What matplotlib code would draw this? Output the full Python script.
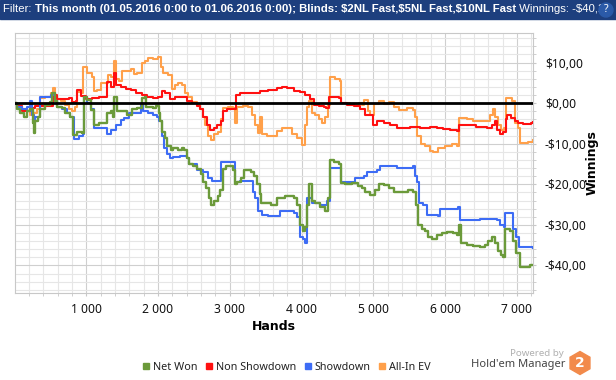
import matplotlib
matplotlib.use("Agg")
import matplotlib.pyplot as plt
from matplotlib.lines import Line2D
from matplotlib.patches import Rectangle, RegularPolygon, Circle
from matplotlib.ticker import MultipleLocator, FuncFormatter

plt.rcParams['font.family'] = ['Noto Sans', 'DejaVu Sans']

# Data (hands, winnings in $)
net_won_hands = [0, 37, 84, 130, 177, 223, 256, 270, 293, 330, 363, 432, 502, 525, 563, 595, 665, 711, 781, 814, 874, 944, 972, 1014, 1060, 1107, 1176, 1260, 1283, 1339, 1372, 1390, 1432, 1502, 1572, 1641, 1711, 1772,
                 1812, 1836, 1930, 1977, 2009, 2033, 2061, 2094, 2127, 2174, 2211, 2281, 2328, 2361, 2399, 2436, 2492, 2549, 2596, 2633, 2671, 2704, 2736, 2774, 2830, 2868, 2900, 2952, 3008, 3046, 3069, 3102, 3149, 3196, 3252, 3299, 3337, 3384, 3421, 3440, 3501, 3571,
                 3657, 3773, 3889, 3935, 3972, 4014, 4051, 4074, 4107, 4144, 4190, 4260, 4329, 4362, 4390, 4445, 4515, 4548, 4608, 4701, 4780, 4840, 4886, 4956, 5025, 5072, 5142, 5211, 5281, 5374,
                 5485, 5555, 5592, 5624, 5671, 5717, 5763, 5810, 5879, 5949, 6019, 6111, 6167, 6195, 6227, 6297, 6390, 6483, 6552, 6599, 6645, 6692, 6738, 6784, 6807, 6831, 6900, 6947, 6993, 7039, 7109, 7179, 7225]
net_won = [0, -1.5, -2.5, -3.3, -2.0, -1.5, -5.0, -7.4, -4.5, -3.3, -1.5, -0.4, 0.4, 2.5, 0.5, -1.0, -1.2, -2.5, -3.3, -7.8, -7.0, -7.4, 1.6, 0.8, -1.6, -5.3, -4.9, -5.0, -2.5, -2.0, -3.3, 1.6, -2.0, -2.0, -3.0, -1.5, -1.2, 1.3,
           1.5, -1.0, -1.2, -0.8, -2.5, -4.5, -7.0, -8.5, -10.5, -11.5, -11.0, -11.5, -11.0, -11.5, -13.5, -15.0, -15.5, -16.2, -17.5, -19.5, -21.0, -23.5, -25.0, -24.0, -23.0, -21.5, -16.2, -15.5, -15.5, -16.5, -20.0, -19.5, -18.5, -16.5, -16.5, -17.0, -18.0, -20.0, -22.5, -24.7, -24.7, -25.0,
           -23.5, -23.0, -23.5, -25.0, -30.0, -31.5, -30.5, -25.0, -20.0, -24.0, -24.5, -25.5, -26.7, -23.5, -14.0, -14.5, -15.0, -19.8, -20.0, -19.8, -20.5, -21.0, -22.0, -22.6, -21.5, -20.0, -20.2, -21.0, -22.0, -22.0,
           -21.5, -22.0, -25.0, -30.0, -31.0, -31.5, -33.0, -33.5, -32.5, -32.0, -31.8, -32.0, -32.6, -30.0, -34.5, -35.0, -35.3, -35.5, -35.0, -34.0, -33.0, -34.5, -36.5, -37.5, -38.0, -31.0, -31.5, -34.0, -37.0, -40.5, -40.5, -40.0, -39.8]

non_showdown_hands = [0, 37, 107, 177, 223, 293, 386, 502, 535, 595, 688, 758, 805, 851, 874, 921, 990, 1083, 1176, 1246, 1293, 1339, 1386, 1418, 1479, 1548, 1618, 1688, 1781,
                      1842, 1935, 2005, 2051, 2097, 2167, 2237, 2329, 2399, 2469, 2538, 2585, 2631, 2677, 2724, 2780, 2826, 2872, 2900, 2956, 3049, 3086, 3141, 3234, 3327, 3420, 3536,
                      3657, 3726, 3796, 3889, 3981, 4051, 4121, 4167, 4237, 4306, 4343, 4376, 4469, 4515, 4548, 4631, 4724, 4817, 4886, 4956, 4993, 5049, 5142, 5234, 5327,
                      5508, 5647, 5787, 5879, 5972, 6065, 6158, 6195, 6297, 6436, 6576, 6645, 6692, 6724, 6761, 6807, 6845, 6863, 6923, 6970, 7016, 7086, 7155, 7202, 7225]
non_showdown = [0, -0.8, -2.0, -2.0, -1.2, -0.8, -0.7, -0.6, 2.0, 1.0, 1.0, 1.2, 0.4, 0.6, 3.3, 1.8, 1.0, 1.2, 1.5, 1.5, 5.3, 4.0, 7.4, 4.5, 4.0, 3.5, 3.2, 2.5, 2.0,
                1.5, 1.3, 1.5, 3.0, 2.5, 1.0, 1.5, 1.5, 0.6, 0.0, -0.8, -1.5, -3.5, -5.5, -6.6, -6.0, -5.5, -4.5, -2.0, -1.5, -1.5, 2.0, 2.5, 2.5, 2.5, 3.0, 3.3,
                3.7, 4.0, 3.7, 3.0, 2.7, 2.0, 1.0, -0.5, -0.8, -1.0, -1.2, 1.6, 1.6, 1.2, 0.0, -0.5, -0.8, -1.5, -3.0, -3.0, -5.5, -4.5, -5.0, -5.5, -6.0,
                -5.8, -6.0, -5.8, -6.2, -6.3, -6.5, -6.8, -5.5, -5.5, -5.8, -6.0, -5.5, -4.5, -6.5, -7.5, -7.0, -4.0, -3.0, -3.7, -4.5, -5.0, -5.2, -5.2, -4.8, -4.6]

showdown_hands = [0, 37, 107, 177, 214, 246, 270, 293, 363, 432, 516, 563, 595, 665, 735, 781, 828, 897, 953, 972, 1014, 1060, 1107, 1176, 1293, 1339, 1409, 1479, 1525, 1595, 1688, 1758,
                  1796, 1865, 1935, 1981, 2019, 2051, 2084, 2121, 2167, 2213, 2306, 2399, 2436, 2492, 2538, 2631, 2701, 2747, 2854, 2872, 3002, 3058, 3077, 3141, 3281, 3318, 3350, 3397, 3443, 3536,
                  3703, 3889, 3935, 3972, 4014, 4042, 4074, 4144, 4260, 4353, 4390, 4538, 4552, 4724, 4747, 4863, 4909, 5049, 5095, 5281, 5327,
                  5555, 5578, 5610, 5638, 5694, 5740, 5903, 5926, 6181, 6204, 6483, 6715, 6761, 6817, 6835, 6923, 6947, 6993, 7030, 7225]
showdown = [0, -1.0, -1.5, -1.0, 0.5, -3.0, -5.0, -3.5, 1.6, 1.6, 2.0, 0.5, -1.0, -1.5, -2.5, -3.3, -8.9, -8.0, -7.7, 1.6, 0.0, -1.5, -6.2, -6.2, -7.6, -6.6, -5.3, -4.1, -3.7, -2.5, -2.5, -0.4,
            -2.0, -2.5, -3.0, -3.5, -4.5, -8.0, -11.0, -12.5, -13.5, -13.2, -13.0, -13.5, -15.0, -15.0, -16.5, -17.0, -18.5, -19.3, -19.3, -14.4, -14.4, -14.4, -19.5, -19.3, -19.3, -22.0, -23.5, -26.5, -27.5, -27.8,
            -26.7, -27.0, -28.0, -33.0, -33.5, -34.5, -23.5, -24.5, -25.0, -24.0, -16.0, -16.0, -19.5, -19.5, -18.5, -18.0, -17.0, -16.5, -15.5, -15.5, -16.0,
            -15.5, -18.0, -19.5, -24.5, -25.0, -27.5, -27.8, -26.0, -25.7, -28.8, -28.6, -28.8, -30.0, -30.5, -27.0, -27.0, -31.0, -33.0, -35.5, -35.8]

allin_ev_hands = [0, 37, 107, 177, 223, 270, 316, 363, 432, 516, 535, 572, 642, 711, 758, 805, 842, 874, 935, 953, 1014, 1074, 1107, 1153, 1200, 1269, 1306, 1339, 1386, 1409, 1455, 1502, 1572, 1618, 1665, 1711, 1772,
                  1819, 1865, 1935, 2005, 2037, 2074, 2144, 2190, 2237, 2283, 2329, 2376, 2422, 2469, 2538, 2585, 2622, 2654, 2701, 2733, 2780, 2840, 2872, 2900, 2979, 3049, 3072, 3104, 3188, 3257, 3304, 3350, 3397, 3420, 3443, 3513, 3582,
                  3657, 3726, 3796, 3865, 3935, 4005, 4042, 4074, 4097, 4144, 4190, 4237, 4283, 4329, 4362, 4390, 4469, 4529, 4552, 4677, 4793, 4840, 4872, 4919, 4956, 5002, 5072, 5142, 5211, 5281, 5350,
                  5462, 5555, 5578, 5610, 5657, 5717, 5787, 5833, 5903, 5995, 6088, 6167, 6195, 6297, 6390, 6506, 6585, 6631, 6668, 6692, 6738, 6784, 6817, 6845, 6900, 6937, 6970, 7016, 7048, 7155, 7225]
allin_ev = [0, -0.8, -1.5, -2.0, -2.8, -2.5, -1.5, 1.2, 1.6, 2.5, 3.7, 1.0, 0.5, -0.5, -1.5, -2.0, -1.0, 2.7, 2.5, 9.0, 7.5, 6.5, 3.0, 3.3, 5.0, 5.0, 7.0, 6.5, 10.3, 6.0, 5.5, 8.0, 8.0, 8.5, 7.3, 7.5, 10.0,
            10.5, 11.2, 11.0, 11.5, 9.0, 7.5, 7.0, 3.5, 4.5, 5.0, 4.5, 2.5, 1.5, 0.3, -0.5, -1.5, -3.5, -5.5, -8.0, -9.0, -7.5, -7.0, -4.0, -1.3, -1.0, -1.2, -5.0, -1.0, -0.8, -1.0, -3.0, -5.5, -7.4, -3.5, -7.5, -8.2, -8.0,
            -6.8, -6.0, -6.2, -7.5, -8.5, -10.2, -5.5, -1.0, 0.5, -2.5, -3.0, -4.0, -5.0, -3.5, -0.5, 6.5, 6.0, 5.5, 0.0, -0.3, 0.0, -0.5, 0.8, -2.0, -3.0, -0.3, 0.5, -0.2, 0.3, -1.0, -1.8,
            -1.3, -1.7, -3.5, -8.0, -10.0, -10.5, -11.8, -12.0, -11.0, -10.5, -10.0, -10.5, -3.7, -4.0, -4.3, -4.5, -4.3, -3.0, -1.5, -3.5, -5.5, -6.5, -6.0, 1.2, 1.3, 0.5, -5.0, -6.0, -9.7, -9.6, -9.0]

series_names = ["Net Won", "Non Showdown", "Showdown", "All-In EV"]
series_colors = ["#6b9a3a", "#ff1010", "#3d6cf5", "#ffa04a"]

W, H = 616, 380
fig = plt.figure(figsize=(W / 100, H / 100), dpi=100)
fig.patch.set_facecolor("white")

ax = fig.add_axes([15 / W, 1 - 293 / H, (533 - 15) / W, (293 - 33) / H])

ax.step(allin_ev_hands, allin_ev, where="post", color=series_colors[3], lw=1.5, zorder=3)
ax.step(non_showdown_hands, non_showdown, where="post", color=series_colors[1], lw=1.5, zorder=4)
ax.step(showdown_hands, showdown, where="post", color=series_colors[2], lw=1.5, zorder=5)
ax.step(net_won_hands, net_won, where="post", color=series_colors[0], lw=1.7, zorder=6)
ax.axhline(0, color="black", lw=2.0, zorder=7)

ax.set_xlim(8, 7223)
ax.set_ylim(-46.8, 17.3)

ax.xaxis.set_major_locator(MultipleLocator(1000))
ax.xaxis.set_minor_locator(MultipleLocator(200))
ax.yaxis.set_major_locator(MultipleLocator(10))
ax.yaxis.set_minor_locator(MultipleLocator(2))
ax.xaxis.set_major_formatter(FuncFormatter(lambda v, p: "" if v <= 0 else f"{int(v):,}".replace(",", " ")))


def money(v, p):
    s = f"${abs(v):.2f}".replace(".", ",")
    return "-" + s if v < -0.001 else s


ax.yaxis.set_major_formatter(FuncFormatter(money))
ax.yaxis.tick_right()
ax.grid(which="major", color="#cfcfcf", lw=0.8, zorder=0)
ax.grid(which="minor", color="#e6e6e6", lw=0.8, zorder=0)
ax.set_axisbelow(True)
ax.tick_params(which="both", length=2.5, color="#c8c8c8", labelsize=8.7, labelcolor="#111111")
ax.tick_params(axis="x", pad=5)
ax.tick_params(axis="y", pad=6)
for sp in ax.spines.values():
    sp.set_color("#c8c8c8")

fig.text(274 / W, 1 - 326 / H, "Hands", ha="center", va="center", fontsize=9, fontweight="bold", family="DejaVu Sans")
fig.text(592 / W, 1 - 163 / H, "Winnings", ha="center", va="center", rotation=90, fontsize=9, fontweight="bold", family="DejaVu Sans")

# legend
handles = [Line2D([], [], marker="s", ls="none", color=c, markersize=4.5) for c in series_colors]
fig.legend(handles, series_names, loc="center", bbox_to_anchor=(287 / W, 1 - 367 / H), ncol=4,
           frameon=False, fontsize=7.8, handlelength=0.5, handletextpad=0.4, columnspacing=0.8,
           borderpad=0, labelcolor="#222222")

# header bar
fig.patches.append(Rectangle((0, 1 - 19 / H), 1, 19 / H, transform=fig.transFigure, color="#1d3f7e", zorder=0))
renderer = fig.canvas.get_renderer()
header = [("Filter: ", "normal"),
          ("This month (01.05.2016 0:00 to 01.06.2016 0:00); Blinds: $2NL Fast,$5NL Fast,$10NL Fast", "bold"),
          (" Winnings: -$40,2", "normal")]
# fit the header line to end near the help icon
fs = 8.5
probe = [fig.text(0, 0, t, fontsize=fs, fontweight=w, family="Liberation Sans") for t, w in header]
total = sum(p.get_window_extent(renderer).width for p in probe)
for p in probe:
    p.remove()
fs = fs * 595 / total
x = 3
for txt, wt in header:
    t = fig.text(x / W, 1 - 9.5 / H, txt, color="white", fontsize=fs, fontweight=wt, va="center", ha="left",
                 family="Liberation Sans")
    x += t.get_window_extent(renderer).width
fig.patches.append(Circle((606, H - 10), 7, transform=None, color="#2b5aa8", zorder=5))
fig.text(606 / W, 1 - 10 / H, "?", color="white", fontsize=7.5, fontweight="bold", ha="center", va="center", zorder=6)

# branding
fig.text(564 / W, 1 - 354 / H, "Powered by", color="#b0b0b0", fontsize=7, ha="right", va="center")
fig.text(565 / W, 1 - 365 / H, "Hold'em Manager", color="#444444", fontsize=8, ha="right", va="center")
fig.patches.append(RegularPolygon((580, H - 363), 6, radius=11.5, transform=None, color="#f28a4b"))
fig.text(580 / W, 1 - 363 / H, "2", color="white", fontsize=10, fontweight="bold", ha="center", va="center",
         family="DejaVu Sans")

fig.savefig("out.png", dpi=100)
